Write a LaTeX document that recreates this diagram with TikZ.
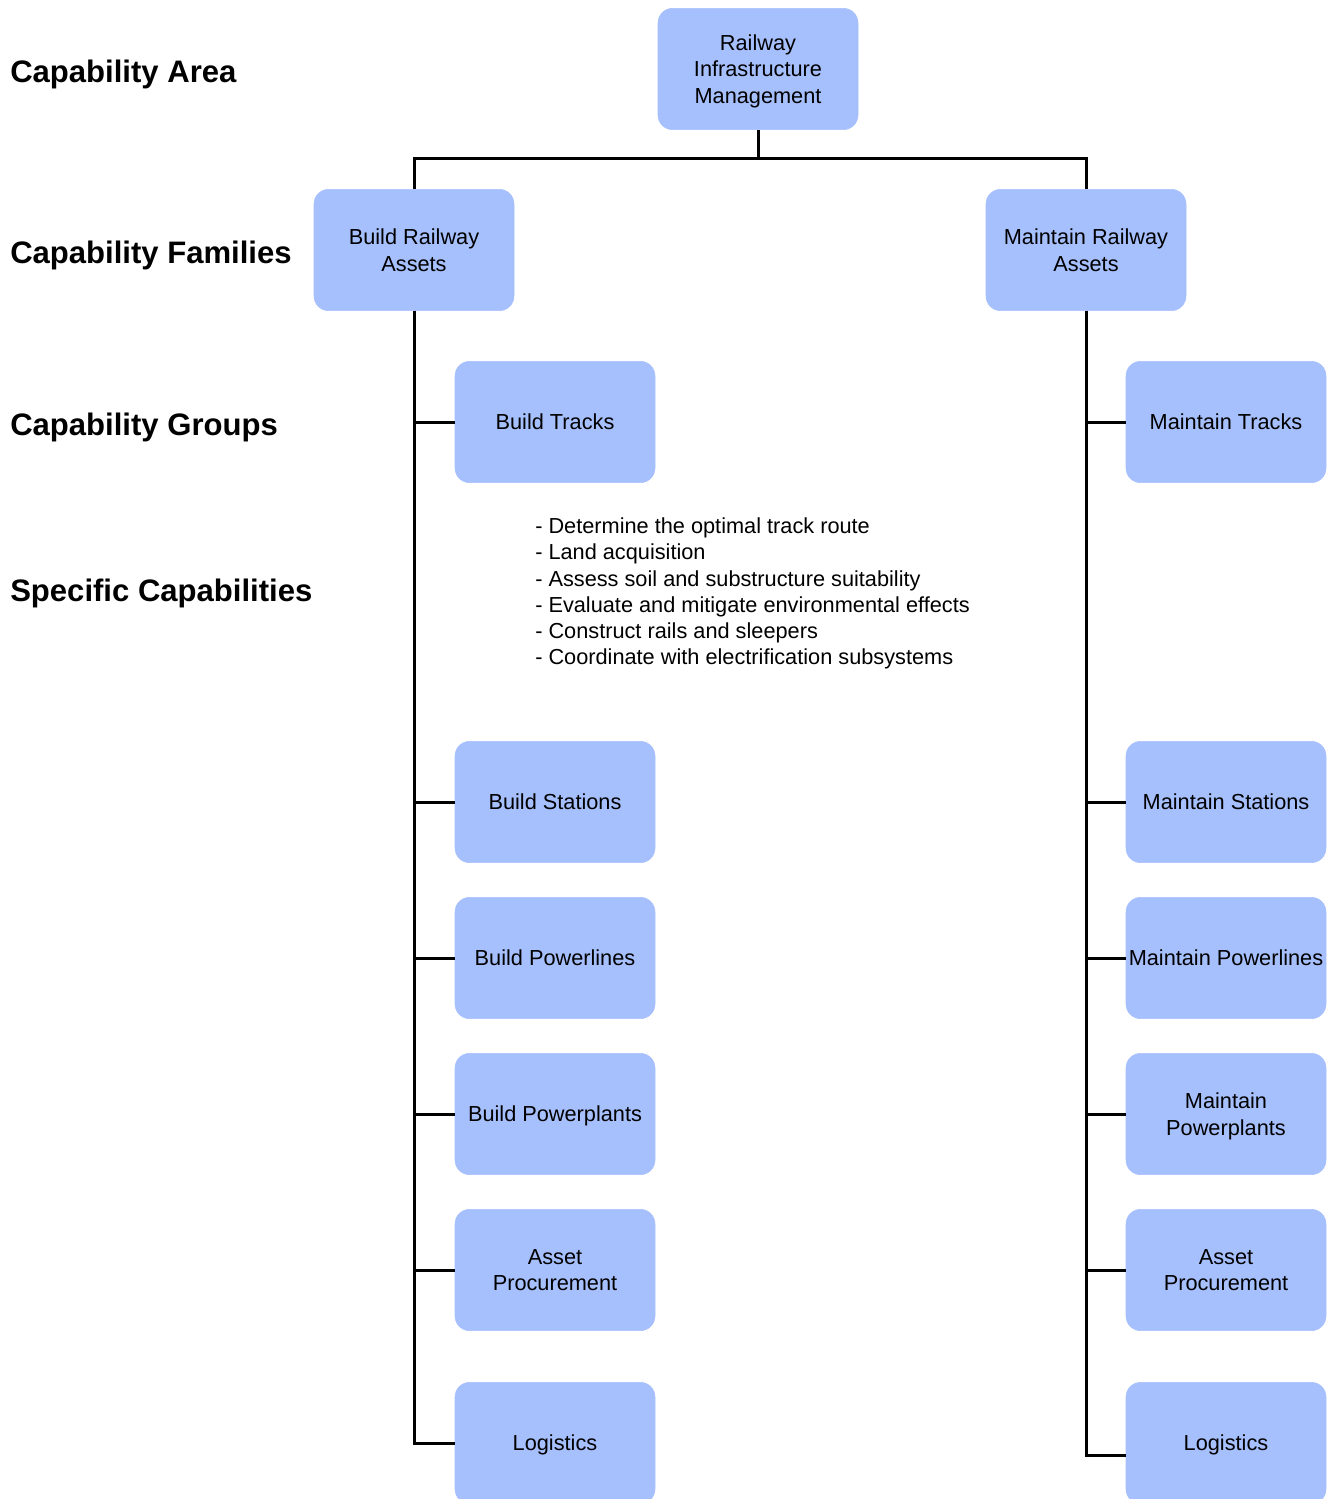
\documentclass[tikz,border=0pt]{standalone}
\usepackage{fontspec}
\setmainfont{Liberation Sans}
\definecolor{boxc}{RGB}{166,191,253}
\begin{document}
\begin{tikzpicture}[x=0.75pt,y=-0.75pt,
  box/.style={draw=boxc, fill=boxc, rounded corners=11pt, minimum width=150pt, minimum height=91pt, align=center, inner sep=0pt, text depth=0pt, font=\fontsize{16.3pt}{19.9pt}\selectfont},
  conn/.style={line width=2.25pt},
  lvl/.style={anchor=west, inner sep=0pt, font=\fontsize{23.3pt}{28pt}\selectfont\bfseries}]
\useasboundingbox (0,0) rectangle (1338,1499);
\clip (0,0) rectangle (1338,1499);

% level labels
\node[lvl] (la) at (10,74) {Capability Area};
\node[lvl] (lf) at (10,255) {Capability Families};
\node[lvl] (lg) at (10,427) {Capability Groups};
\node[lvl] (ls) at (10,593) {Specific Capabilities};

% boxes
\node[box] (top) at (758,69) {Railway\\Infrastructure\\Management};
\node[box] (bra) at (414,250) {Build Railway\\Assets};
\node[box] (mra) at (1086,250) {Maintain Railway\\Assets};

\node[box] (btr) at (555,422) {Build Tracks};
\node[box] (bst) at (555,802) {Build Stations};
\node[box] (bpl) at (555,958) {Build Powerlines};
\node[box] (bpp) at (555,1114) {Build Powerplants};
\node[box] (bap) at (555,1270) {Asset\\Procurement};
\node[box] (blg) at (555,1443) {Logistics};

\node[box] (mtr) at (1226,422) {Maintain Tracks};
\node[box] (mst) at (1226,802) {Maintain Stations};
\node[box] (mpl) at (1226,958) {Maintain Powerlines};
\node[box] (mpp) at (1226,1114) {Maintain\\Powerplants};
\node[box] (map) at (1226,1270) {Asset\\Procurement};
\node[box] (mlg) at (1226,1443) {Logistics};

% specific capabilities text
\node[anchor=west, align=left, inner sep=0pt, font=\fontsize{16.3pt}{19.65pt}\selectfont] (spec) at (535,593.5)
{- Determine the optimal track route\\
- Land acquisition\\
- Assess soil and substructure suitability\\
- Evaluate and mitigate environmental effects\\
- Construct rails and sleepers\\
- Coordinate with electrification subsystems};

% connectors
\draw[conn] (top.south) -- ++(0,29) coordinate (j);
\draw[conn] (bra.north) |- (j) -| (mra.north);

\foreach \n in {btr,bst,bpl,bpp,bap,blg}
  \draw[conn] (bra.south) |- (\n.west);
\foreach \n in {mtr,mst,mpl,mpp,map}
  \draw[conn] (mra.south) |- (\n.west);
\coordinate (ml) at (1126,1455);
\draw[conn] (mra.south) |- (ml);
\end{tikzpicture}
\end{document}
